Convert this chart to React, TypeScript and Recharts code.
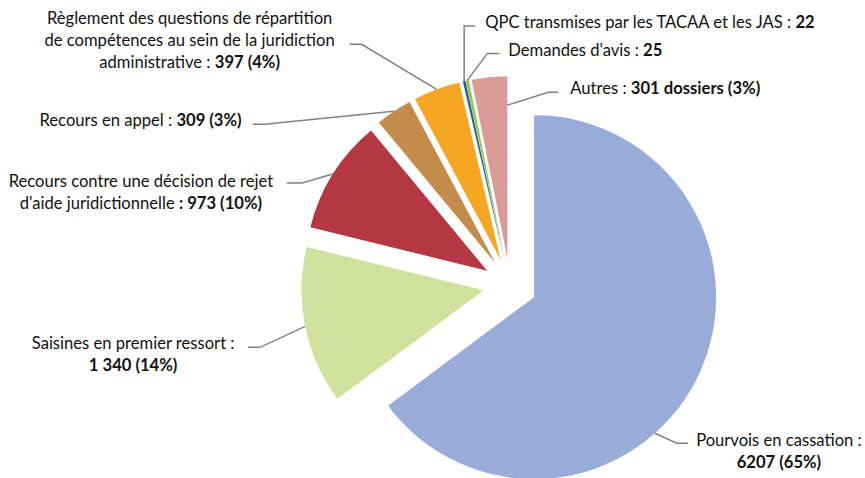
import React from 'react';
import { PieChart, Pie, Sector } from 'recharts';

// contentieux enregistrés, par nature
const CATEGORIES = [
    'Pourvois en cassation',
    'Saisines en premier ressort',
    "Recours contre une décision de rejet d'aide juridictionnelle",
    'Recours en appel',
    'Règlement des questions de répartition de compétences au sein de la juridiction administrative',
    'QPC transmises par les TACAA et les JAS',
    "Demandes d'avis",
    'Autres',
];
const VALUES = [6207, 1340, 973, 309, 397, 22, 25, 301];

// label text, **bold** parts
const LABEL_LINES = [
    ['Pourvois en cassation :', '**6207 (65%)**'],
    ['Saisines en premier ressort :', '**1 340 (14%)**'],
    ['Recours contre une décision de rejet', "d'aide juridictionnelle **: 973 (10%)**"],
    ['Recours en appel : **309 (3%)**'],
    [
        'Règlement des questions de répartition',
        'de compétences au sein de la juridiction',
        'administrative : **397 (4%)**',
    ],
    ['QPC transmises par les TACAA et les JAS : **22**'],
    ["Demandes d'avis : **25**"],
    ['Autres : **301 dossiers (3%)**'],
];

const COLORS = ['#99abd8', '#d2e09c', '#b53743', '#c48c4b', '#f5a623', '#1f5fad', '#92c83e', '#da9b97'];

// where the leader line leaves the slice (t = share of the slice angle, r = share of radius),
// then elbow / horizontal run / text offset
const LABEL_LAYOUT = [
    { t: 0.593, r: 1, elbow: [22, 10], run: 11, text: [91, -3], anchor: 'middle' },
    { t: 0.5, r: 1, elbow: [-45, 21], run: -12, text: [-115, -4], anchor: 'middle' },
    { t: 0.5, r: 1, elbow: [-31, 9], run: -15, text: [-146, -2], anchor: 'middle' },
    { t: 0.5, r: 1, elbow: [-129, 13], run: -12, text: [-11, -4], anchor: 'end' },
    { t: 0.5, r: 1, elbow: [-75, -45], run: -12, text: [-160, -26], anchor: 'middle' },
    { t: 0.5, r: 1, elbow: [0, -55], run: 11, text: [10, -4], anchor: 'start' },
    { t: 0.5, r: 1, elbow: [20, -27], run: 12, text: [9, -3], anchor: 'start' },
    { t: 1, r: 0.84, elbow: [41, -13], run: 10, text: [12, -4], anchor: 'start' },
];

const EXPLODE = 27;
const LINE_H = 22;
const FONT = 'Lato, "Open Sans", sans-serif';

const data = CATEGORIES.map((name, i) => ({ name, value: VALUES[i] }));

const RAD = Math.PI / 180;
const polar = (cx: number, cy: number, r: number, angle: number) => ({
    x: cx + r * Math.cos(-angle * RAD),
    y: cy + r * Math.sin(-angle * RAD),
});

const explodedCenter = (p: any) => {
    const mid = (p.startAngle + p.endAngle) / 2;
    return polar(p.cx, p.cy, EXPLODE, mid);
};

const renderSlice = (p: any) => {
    const c = explodedCenter(p);
    return (
        <Sector
            cx={c.x}
            cy={c.y}
            innerRadius={0}
            outerRadius={p.outerRadius}
            startAngle={p.startAngle}
            endAngle={p.endAngle}
            fill={COLORS[p.index]}
            stroke="none"
        />
    );
};

const renderLabel = (p: any) => {
    const L = LABEL_LAYOUT[p.index];
    const c = explodedCenter(p);
    const ang = p.startAngle + L.t * (p.endAngle - p.startAngle);
    const a = polar(c.x, c.y, p.outerRadius * L.r, ang);
    const ex = a.x + L.elbow[0];
    const ey = a.y + L.elbow[1];
    const endX = ex + L.run;
    const tx = endX + L.text[0];
    const ty = ey + L.text[1];
    return (
        <g>
            <polyline
                points={`${a.x},${a.y} ${ex},${ey} ${endX},${ey}`}
                fill="none"
                stroke="#808080"
                strokeWidth={1.5}
            />
            {LABEL_LINES[p.index].map((line, j) => (
                <text
                    key={j}
                    x={tx}
                    y={ty + j * LINE_H}
                    textAnchor={L.anchor}
                    dominantBaseline="central"
                    fontFamily={FONT}
                    fontSize={16.6}
                    fill="#111111"
                >
                    {line.split('**').map((part, k) => (
                        <tspan key={k} fontWeight={k % 2 ? 700 : 400}>{part}</tspan>
                    ))}
                </text>
            ))}
        </g>
    );
};

const App: React.FC = () => {
    return (
        <div style={{ position: 'absolute', left: 0, top: 0, width: 865, height: 478, background: '#ffffff' }}>
            <PieChart width={865} height={478} margin={{ top: 0, right: 0, bottom: 0, left: 0 }}>
                <Pie
                    data={data}
                    dataKey="value"
                    nameKey="name"
                    cx={510}
                    cy={285}
                    outerRadius={182}
                    startAngle={90}
                    endAngle={-270}
                    fill="none"
                    stroke="none"
                    label={renderSlice}
                    labelLine={false}
                    isAnimationActive={false}
                />
                <Pie
                    data={data}
                    dataKey="value"
                    nameKey="name"
                    cx={510}
                    cy={285}
                    outerRadius={182}
                    startAngle={90}
                    endAngle={-270}
                    fill="none"
                    stroke="none"
                    label={renderLabel}
                    labelLine={false}
                    isAnimationActive={false}
                />
            </PieChart>
        </div>
    );
};

export default App;
